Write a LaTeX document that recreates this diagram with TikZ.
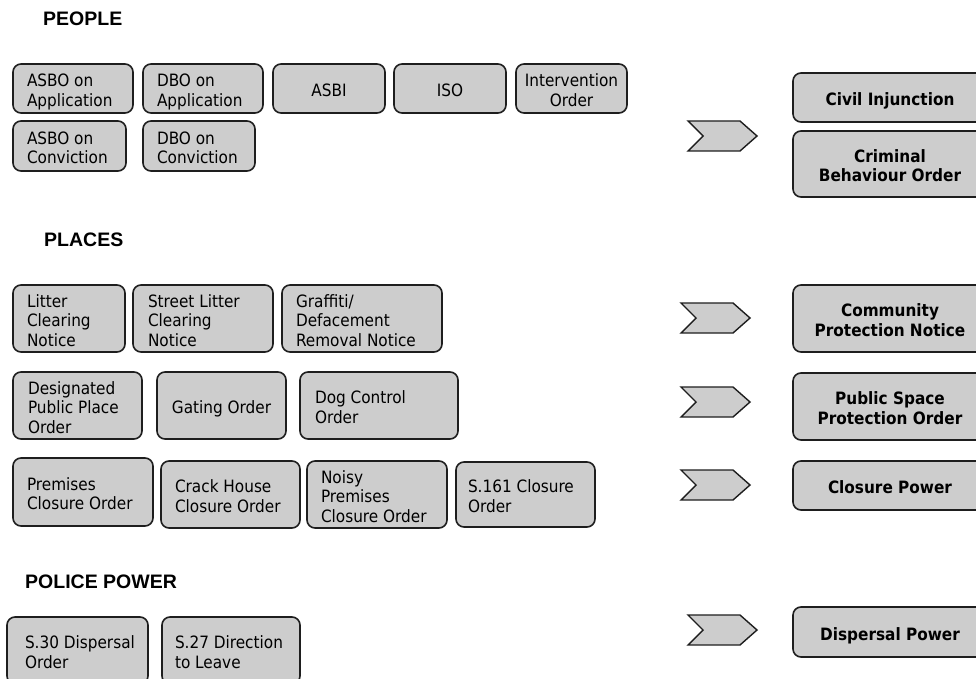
\documentclass[tikz,border=0pt]{standalone}
\usepackage{fontspec}
\newfontfamily\boxfont{DejaVuSansCondensed.ttf}[BoldFont=DejaVuSansCondensed-Bold.ttf]
\newfontfamily\headfont{Liberation Sans}
\definecolor{boxgray}{RGB}{205,205,205}
\definecolor{edge}{RGB}{30,30,30}
\tikzset{
  basebox/.style={draw=edge, fill=boxgray, line width=1.6pt, rounded corners=8pt,
    inner ysep=0pt, inner xsep=4pt, font=\boxfont\fontsize{17}{19.5}\selectfont},
  lbox/.style={basebox},
  cbox/.style={basebox},
  rbox/.style={basebox, font=\boxfont\bfseries\fontsize{17}{19.5}\selectfont},
  heading/.style={anchor=base west, inner sep=0pt, font=\headfont\bfseries\fontsize{19.5}{22}\selectfont},
  chevron/.style={draw=edge, fill=boxgray, line width=1.4pt, line join=miter}
}
% #1 style, #2 column (l/c), #3 left inset, #4 name, #5 x1, #6 y1, #7 x2, #8 y2, #9 text
\newcommand\mkbox[9]{%
  \pgfmathsetmacro\bw{#7-#5}\pgfmathsetmacro\bh{#8-#6}%
  \pgfmathsetmacro\tw{#7-#5-8}\pgfmathsetmacro\li{#3}%
  \pgfmathsetmacro\cx{(#5+#7)/2}\pgfmathsetmacro\cy{(#6+#8)/2}%
  \node[#1, minimum width=\bw pt, minimum height=\bh pt] (#4) at (\cx,\cy)
    {\makebox[\tw pt][#2]{\hspace*{\li pt}\begin{tabular}{@{}#2@{}}\rule{0pt}{22pt}#9\end{tabular}}};}
\newcommand\chev[2]{%
  \draw[chevron] (#1,#2) -- ++(52,0) -- ++(17,15) -- ++(-17,15) -- ++(-52,0) -- ++(15,-15) -- cycle;}
\begin{document}
\begin{tikzpicture}[x=1pt,y=-1pt]
\useasboundingbox (0,0) rectangle (976,679);
\fill[white] (0,0) rectangle (976,679);

% headings
\node[heading] (hpeople) at (43,26) {PEOPLE};
\node[heading] (hplaces) at (44,246) {PLACES};
\node[heading] (hpolice) at (25,588) {POLICE POWER};

% PEOPLE
\mkbox{lbox}{l}{10}{aoa}{13}{64}{133}{113}{ASBO on\\Application}
\mkbox{lbox}{l}{10}{doa}{143}{64}{263}{113}{DBO on\\Application}
\mkbox{cbox}{c}{0}{asbi}{273}{64}{385}{113}{ASBI}
\mkbox{cbox}{c}{0}{iso}{394}{64}{506}{113}{ISO}
\mkbox{cbox}{c}{0}{io}{516}{64}{627}{113}{Intervention\\Order}
\mkbox{lbox}{l}{10}{aoc}{13}{121}{126}{171}{ASBO on\\Conviction}
\mkbox{lbox}{l}{10}{doc}{143}{121}{255}{171}{DBO on\\Conviction}

% PLACES
\mkbox{lbox}{l}{10}{lcn}{13}{285}{125}{352}{Litter\\Clearing\\Notice}
\mkbox{lbox}{l}{11}{slcn}{133}{285}{273}{352}{Street Litter\\Clearing\\Notice}
\mkbox{lbox}{l}{10}{gdrn}{282}{285}{442}{352}{Graffiti/\\Defacement\\Removal Notice}
\mkbox{lbox}{l}{11}{dppo}{13}{372}{142}{439}{Designated\\Public Place\\Order}
\mkbox{cbox}{c}{0}{gating}{157}{372}{286}{439}{Gating Order}
\mkbox{lbox}{l}{11}{dco}{300}{372}{458}{439}{Dog Control\\Order}
\mkbox{lbox}{l}{10}{pco}{13}{458}{153}{526}{Premises\\Closure Order}
\mkbox{lbox}{l}{10}{chco}{161}{461}{300}{528}{Crack House\\Closure Order}
\mkbox{lbox}{l}{10}{npco}{307}{461}{447}{528}{Noisy\\Premises\\Closure Order}
\mkbox{lbox}{l}{8}{sclo}{456}{462}{595}{527}{S.161 Closure\\Order}

% POLICE POWER
\mkbox{lbox}{l}{14}{sdo}{7}{617}{148}{684}{S.30 Dispersal\\Order}
\mkbox{lbox}{l}{9}{sdl}{162}{617}{300}{684}{S.27 Direction\\to Leave}

% chevrons
\chev{688}{121}
\chev{681}{303}
\chev{681}{387}
\chev{681}{470}
\chev{688}{615}

% new powers
\mkbox{rbox}{c}{0}{ci}{793}{73}{987}{122}{Civil Injunction}
\mkbox{rbox}{c}{0}{cbo}{793}{131}{987}{197}{Criminal\\Behaviour Order}
\mkbox{rbox}{c}{0}{cpn}{793}{285}{987}{352}{Community\\Protection Notice}
\mkbox{rbox}{c}{0}{pspo}{793}{373}{987}{440}{Public Space\\Protection Order}
\mkbox{rbox}{c}{0}{cpow}{793}{461}{987}{510}{Closure Power}
\mkbox{rbox}{c}{0}{dpow}{793}{607}{987}{657}{Dispersal Power}
\end{tikzpicture}
\end{document}
